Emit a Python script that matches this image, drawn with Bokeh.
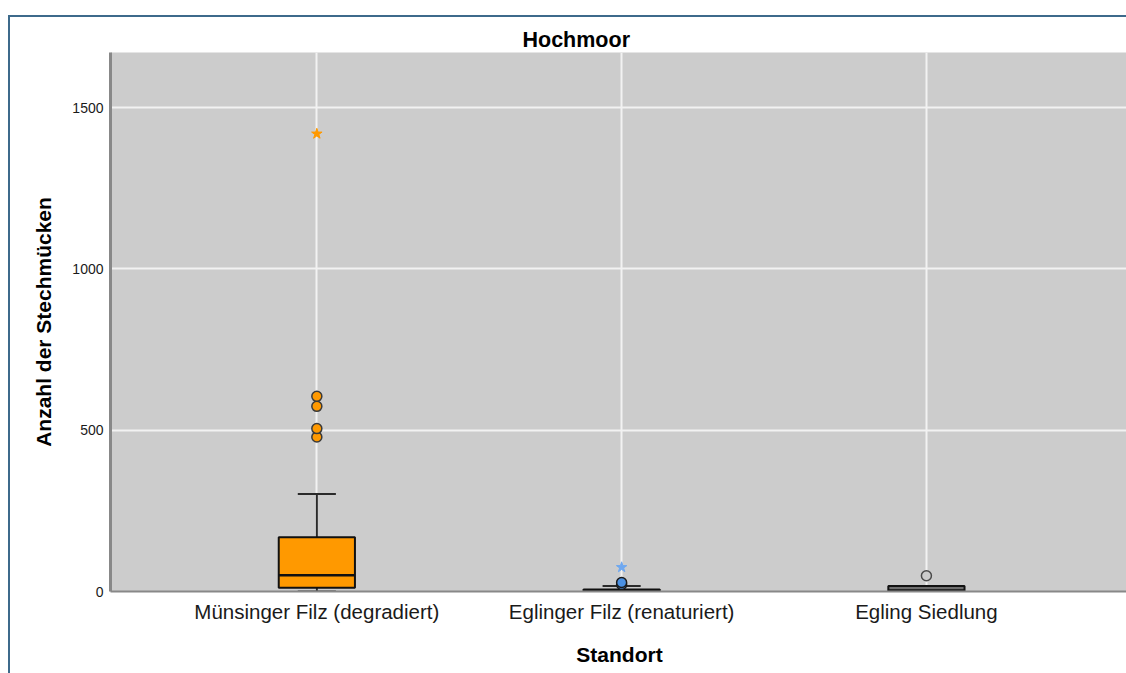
from bokeh.plotting import figure
from bokeh.models import Range1d, FixedTicker, ColumnDataSource, Title
from bokeh.embed import file_html
from bokeh.resources import INLINE

# ---- data ----
categories = ["Münsinger Filz (degradiert)", "Eglinger Filz (renaturiert)", "Egling Siedlung"]
lower = [0, 0, 0]
q1 = [12, 0, 0]
median = [50, 2, 3]
q3 = [168, 6, 17]
upper = [302, 17, 17]
outliers = [[479, 505, 574, 605], [22, 28], [49]]
extremes = [[1419], [75], []]
box_colors = ["#ff9900", "#4a90e2", "#6e6e6e"]
star_colors = ["#ff9900", "#6fa8f0", "#8a8a8a"]
circle_fills = ["#ff9900", "#4a90e2", "#cccccc"]
circle_lines = ["#3a3a3a", "#1a1a1a", "#4a4a4a"]
y_ticks = [0, 500, 1000, 1500]

FONT = "Liberation Sans"
xs = list(range(len(categories)))
BW = 0.25

p = figure(width=1118, height=658, output_backend="svg", toolbar_location=None,
           x_range=Range1d(-0.677, 2.663), y_range=Range1d(0, 1671),
           min_border_left=100, min_border_top=35, min_border_bottom=84, min_border_right=0)
p.margin = (15, 0, 0, 8)
p.styles = {"border-top": "2px solid #3d6a8b", "border-left": "2px solid #3d6a8b"}

p.title = Title(text="Hochmoor", align="left", offset=412)
p.title.text_font = FONT
p.title.text_font_size = "21.5px"
p.title.text_font_style = "bold"
p.title.text_color = "#000000"
p.title.standoff = 2

p.background_fill_color = "#cccccc"
p.border_fill_color = "#ffffff"
p.outline_line_color = None

p.xgrid.ticker = FixedTicker(ticks=xs)
p.xgrid.grid_line_color = "#f2f2f2"
p.xgrid.grid_line_width = 2
p.ygrid.ticker = FixedTicker(ticks=y_ticks[1:])
p.ygrid.grid_line_color = "#f2f2f2"
p.ygrid.grid_line_width = 2

# axes
p.xaxis.ticker = FixedTicker(ticks=xs)
p.xaxis.major_label_overrides = {i: c for i, c in enumerate(categories)}
p.xaxis.major_label_text_font = FONT
p.xaxis.major_label_text_font_size = "20.5px"
p.xaxis.major_label_text_color = "#1a1a1a"
p.xaxis.major_label_standoff = 8
p.xaxis.axis_label = "Standort"
p.xaxis.axis_label_text_font = FONT
p.xaxis.axis_label_text_font_size = "21px"
p.xaxis.axis_label_text_font_style = "bold"
p.xaxis.axis_label_text_color = "#000000"
p.xaxis.axis_label_standoff = 17
p.xaxis.axis_line_color = "#888888"
p.xaxis.axis_line_width = 2
p.xaxis.major_tick_out = 0
p.xaxis.major_tick_in = 0
p.xaxis.major_tick_line_color = None
p.xaxis.minor_tick_line_color = None

p.yaxis.ticker = FixedTicker(ticks=y_ticks)
p.yaxis.major_label_text_font = FONT
p.yaxis.major_label_text_font_size = "14px"
p.yaxis.major_label_text_color = "#1a1a1a"
p.yaxis.major_label_standoff = 7
p.yaxis.axis_label = "Anzahl der Stechmücken"
p.yaxis.axis_label_text_font = FONT
p.yaxis.axis_label_text_font_size = "21px"
p.yaxis.axis_label_text_font_style = "bold"
p.yaxis.axis_label_text_color = "#000000"
p.yaxis.axis_label_standoff = 14
p.yaxis.axis_line_color = "#888888"
p.yaxis.axis_line_width = 3
p.yaxis.major_tick_out = 0
p.yaxis.major_tick_in = 0
p.yaxis.major_tick_line_color = None
p.yaxis.minor_tick_line_color = None

# whiskers
src = ColumnDataSource(dict(x=xs, lower=lower, q1=q1, med=median, q3=q3, upper=upper,
                            color=box_colors,
                            cl=[x - BW / 4 for x in xs], cr=[x + BW / 4 for x in xs],
                            bl=[x - BW / 2 for x in xs], br=[x + BW / 2 for x in xs]))
p.segment(x0="x", y0="q3", x1="x", y1="upper", source=src, line_color="#2a2a2a", line_width=2)
p.segment(x0="x", y0="lower", x1="x", y1="q1", source=src, line_color="#2a2a2a", line_width=2)
p.segment(x0="cl", y0="upper", x1="cr", y1="upper", source=src, line_color="#2a2a2a", line_width=2)
p.segment(x0="cl", y0="lower", x1="cr", y1="lower", source=src, line_color="#2a2a2a", line_width=2)
p.vbar(x="x", width=BW, bottom="q1", top="q3", source=src, fill_color="color",
       line_color="#111111", line_width=2)
p.segment(x0="bl", y0="med", x1="br", y1="med", source=src, line_color="#111111", line_width=2.5)

# outliers
ox, oy, ofill, oline = [], [], [], []
for i, vals in enumerate(outliers):
    for v in vals:
        ox.append(xs[i]); oy.append(v); ofill.append(circle_fills[i]); oline.append(circle_lines[i])
p.scatter(x=ox, y=oy, marker="circle", size=10, fill_color=ofill, line_color=oline, line_width=1.5)

ex, ey, ec = [], [], []
for i, vals in enumerate(extremes):
    for v in vals:
        ex.append(xs[i]); ey.append(v); ec.append(star_colors[i])
p.scatter(x=ex, y=ey, marker="star", size=11, fill_color=ec, line_color=ec, line_width=1)

open("out.html", "w").write(file_html(p, INLINE))
